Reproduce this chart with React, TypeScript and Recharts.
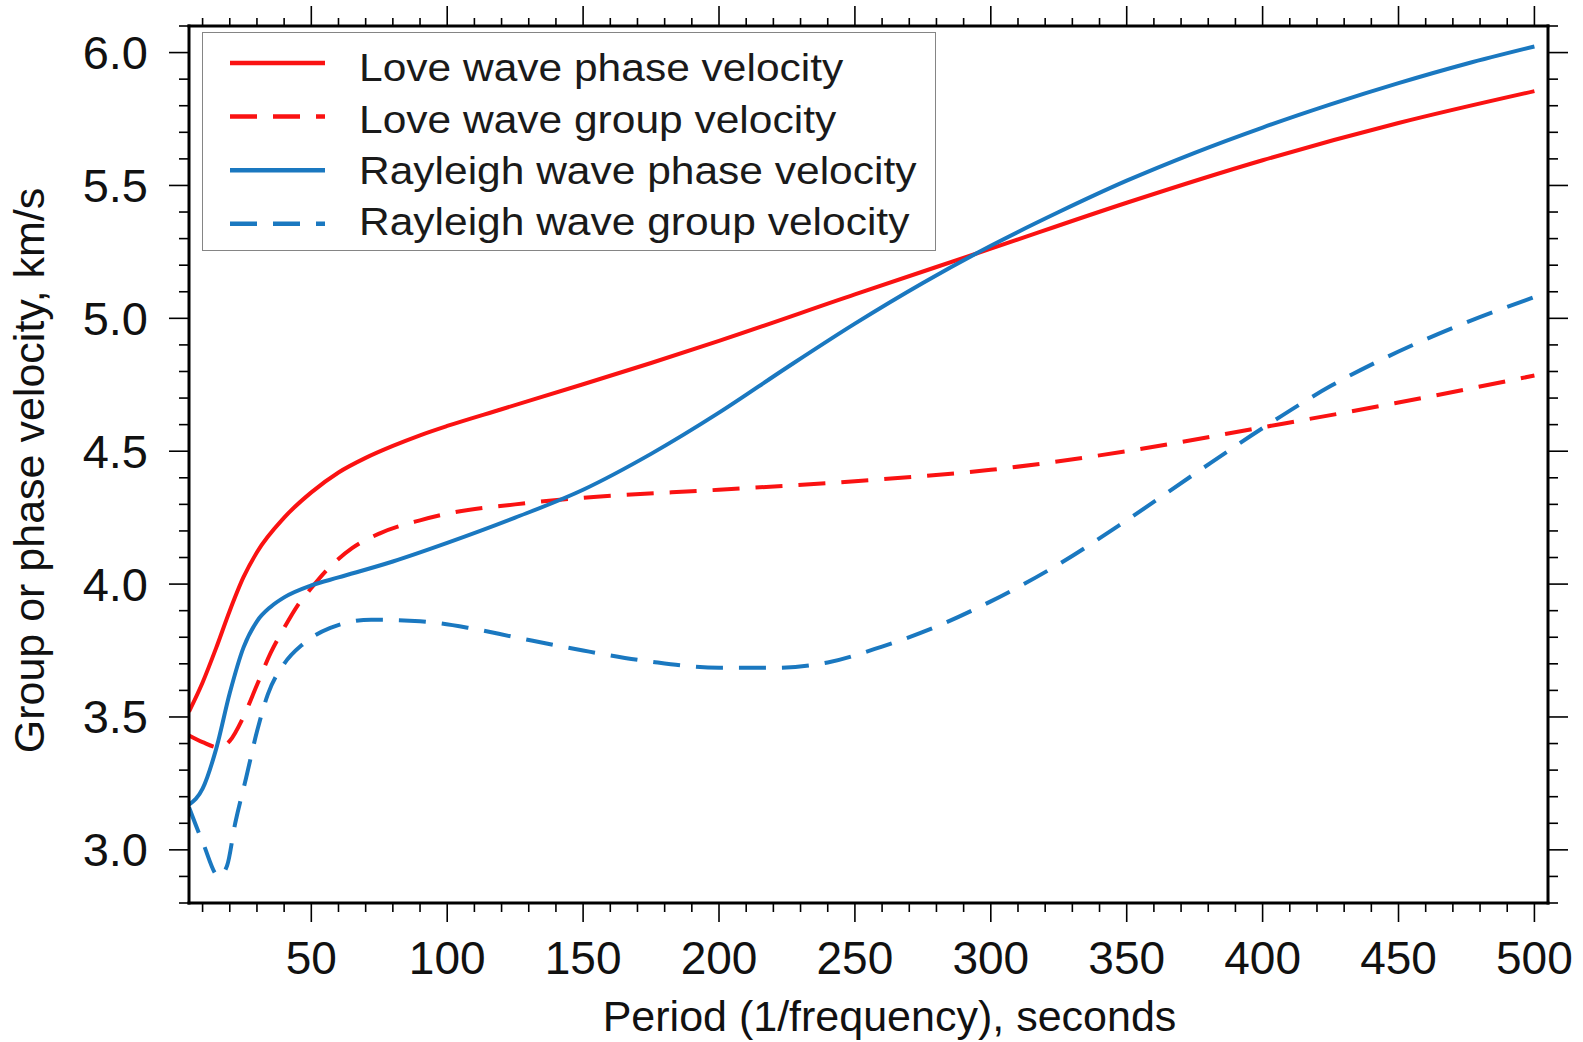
import React from 'react';
import { LineChart, Line, XAxis, YAxis, Legend, Label } from 'recharts';

const FONT = "'Liberation Sans', Arial, Helvetica, sans-serif";

// ---- data (period in seconds, velocity in km/s) ----
const lovePhasePeriod = [5, 10, 15, 20, 25, 30, 40, 50, 60, 70, 80, 90, 100, 120, 150, 175, 200, 250, 300, 350, 400, 450, 500];
const lovePhaseVel = [3.52, 3.63, 3.76, 3.9, 4.025, 4.12, 4.25, 4.345, 4.42, 4.475, 4.52, 4.56, 4.595, 4.658, 4.752, 4.832, 4.915, 5.09, 5.262, 5.435, 5.595, 5.735, 5.855];

const loveGroupPeriod = [5, 10, 16, 20, 25, 30, 35, 40, 45, 50, 55, 65, 75, 90, 100, 125, 150, 200, 250, 300, 350, 400, 450, 500];
const loveGroupVel = [3.43, 3.405, 3.385, 3.41, 3.5, 3.62, 3.74, 3.835, 3.92, 3.985, 4.045, 4.135, 4.19, 4.24, 4.265, 4.3, 4.325, 4.355, 4.387, 4.43, 4.5, 4.59, 4.683, 4.785];

const rayPhasePeriod = [5, 10, 15, 20, 25, 30, 35, 40, 50, 60, 80, 100, 125, 150, 175, 200, 225, 250, 275, 300, 325, 350, 375, 400, 425, 450, 475, 500];
const rayPhaseVel = [3.17, 3.23, 3.38, 3.59, 3.76, 3.86, 3.914, 3.95, 3.995, 4.025, 4.085, 4.155, 4.25, 4.355, 4.49, 4.645, 4.815, 4.98, 5.133, 5.273, 5.4, 5.518, 5.623, 5.718, 5.805, 5.885, 5.958, 6.023];

const rayGroupPeriod = [5, 10, 16, 19, 22, 26, 30, 34, 40, 47, 57, 72, 90, 108, 125, 150, 175, 200, 220, 240, 260, 280, 300, 325, 350, 375, 400, 425, 450, 475, 500];
const rayGroupVel = [3.16, 3.03, 2.9, 2.94, 3.1, 3.27, 3.445, 3.585, 3.7, 3.775, 3.835, 3.866, 3.86, 3.835, 3.8, 3.75, 3.708, 3.685, 3.685, 3.705, 3.765, 3.84, 3.935, 4.075, 4.24, 4.415, 4.587, 4.745, 4.875, 4.985, 5.08];

// ---- axis ticks ----
const xTicks = [10, 20, 30, 40, 50, 60, 70, 80, 90, 100, 110, 120, 130, 140, 150, 160, 170, 180, 190, 200,
  210, 220, 230, 240, 250, 260, 270, 280, 290, 300, 310, 320, 330, 340, 350, 360, 370, 380, 390, 400,
  410, 420, 430, 440, 450, 460, 470, 480, 490, 500];
const xMajorTicks = [50, 100, 150, 200, 250, 300, 350, 400, 450, 500];
const yTicks = [2.8, 2.9, 3.0, 3.1, 3.2, 3.3, 3.4, 3.5, 3.6, 3.7, 3.8, 3.9, 4.0, 4.1, 4.2, 4.3, 4.4, 4.5,
  4.6, 4.7, 4.8, 4.9, 5.0, 5.1, 5.2, 5.3, 5.4, 5.5, 5.6, 5.7, 5.8, 5.9, 6.0, 6.1];
const yMajorTicks = [3.0, 3.5, 4.0, 4.5, 5.0, 5.5, 6.0];

const xDomain = [5, 505];
const yDomain = [2.8, 6.1];

const RED = '#fa1212';
const BLUE = '#1a78c0';
const DASH = '27 16';

const zip = (ps: number[], vs: number[]) => ps.map((p, i) => ({ p, v: vs[i] }));

const seriesList = [
  { name: 'Love wave phase velocity', color: RED, dash: undefined as string | undefined, data: zip(lovePhasePeriod, lovePhaseVel) },
  { name: 'Love wave group velocity', color: RED, dash: DASH, data: zip(loveGroupPeriod, loveGroupVel) },
  { name: 'Rayleigh wave phase velocity', color: BLUE, dash: undefined as string | undefined, data: zip(rayPhasePeriod, rayPhaseVel) },
  { name: 'Rayleigh wave group velocity', color: BLUE, dash: DASH, data: zip(rayGroupPeriod, rayGroupVel) },
];

const isMajorX = (v: number) => xMajorTicks.some((m) => Math.abs(m - v) < 1e-6);
const isMajorY = (v: number) => yMajorTicks.some((m) => Math.abs(m - v) < 1e-6);

const TICK_W = 1.6;

const BottomTick = (props: any) => {
  const { x, y, payload } = props;
  const major = isMajorX(payload.value);
  return (
    <g>
      <line x1={x} x2={x} y1={y} y2={y + (major ? 19 : 9)} stroke="#000" strokeWidth={TICK_W} />
      {major && (
        <text x={x} y={y + 71} textAnchor="middle" fontSize={46} fill="#111" fontFamily={FONT}>
          {payload.value}
        </text>
      )}
    </g>
  );
};

const TopTick = (props: any) => {
  const { x, y, payload } = props;
  const major = isMajorX(payload.value);
  return <line x1={x} x2={x} y1={y} y2={y - (major ? 20 : 8)} stroke="#000" strokeWidth={TICK_W} />;
};

const LeftTick = (props: any) => {
  const { x, y, payload } = props;
  const major = isMajorY(payload.value);
  return (
    <g>
      <line x1={x} x2={x - (major ? 20 : 10)} y1={y} y2={y} stroke="#000" strokeWidth={TICK_W} />
      {major && (
        <text x={x - 41} y={y + 16.5} textAnchor="end" fontSize={47} fill="#111" fontFamily={FONT}>
          {Number(payload.value).toFixed(1)}
        </text>
      )}
    </g>
  );
};

const RightTick = (props: any) => {
  const { x, y, payload } = props;
  const major = isMajorY(payload.value);
  return <line x1={x} x2={x + (major ? 20 : 10)} y1={y} y2={y} stroke="#000" strokeWidth={TICK_W} />;
};

const axisLine = { stroke: '#000', strokeWidth: 3, strokeLinecap: 'square' as const };

const LegendBox = () => (
  <div style={{ width: 734, height: 219, boxSizing: 'border-box', border: '1.5px solid #858585', background: '#fff', position: 'relative' }}>
    <svg width={734} height={219} style={{ display: 'block', position: 'absolute', left: -1.5, top: -1.5, overflow: 'visible' }}>
      {seriesList.map((s, i) => (
        <g key={s.name}>
          <line
            x1={28}
            x2={123}
            y1={31 + i * 53.6}
            y2={31 + i * 53.6}
            stroke={s.color}
            strokeWidth={4.5}
            strokeDasharray={s.dash}
          />
          <text
            transform={`translate(157, ${49.4 + i * 51.1}) scale(1.09, 1)`}
            x={0}
            y={0}
            fontSize={39}
            fill="#1a1a1a"
            fontFamily={FONT}
          >
            {s.name}
          </text>
        </g>
      ))}
    </svg>
  </div>
);

export default function App() {
  return (
    <div style={{ position: 'absolute', left: 0, top: 0, width: 1583, height: 1042, background: '#fff' }}>
      <LineChart width={1583} height={1042} margin={{ top: 0, right: 0, bottom: 0, left: 0 }}>
        <XAxis
          xAxisId="b"
          dataKey="p"
          type="number"
          orientation="bottom"
          domain={xDomain}
          ticks={xTicks}
          interval={0}
          height={139}
          tickSize={0}
          tickMargin={0}
          tickLine={false}
          axisLine={axisLine}
          tick={<BottomTick />}
          allowDataOverflow
        >
          <Label
            content={(p: any) => {
              const vb = p.viewBox || { x: 189, y: 903, width: 1359, height: 139 };
              return (
                <text x={vb.x + vb.width / 2 + 21} y={vb.y + 128} textAnchor="middle" fontSize={43} fill="#111" fontFamily={FONT}>
                  Period (1/frequency), seconds
                </text>
              );
            }}
          />
        </XAxis>
        <XAxis
          xAxisId="t"
          dataKey="p"
          type="number"
          orientation="top"
          domain={xDomain}
          ticks={xTicks}
          interval={0}
          height={26}
          tickSize={0}
          tickMargin={0}
          tickLine={false}
          axisLine={axisLine}
          tick={<TopTick />}
          allowDataOverflow
        />
        <YAxis
          yAxisId="l"
          type="number"
          orientation="left"
          domain={yDomain}
          ticks={yTicks}
          interval={0}
          width={189}
          tickSize={0}
          tickMargin={0}
          tickLine={false}
          axisLine={axisLine}
          tick={<LeftTick />}
          allowDataOverflow
        >
          <Label
            content={(p: any) => {
              const vb = p.viewBox || { x: 0, y: 26, width: 189, height: 877 };
              const cx = vb.x + 44;
              const cy = vb.y + vb.height / 2 + 6;
              return (
                <text x={cx} y={cy} transform={`rotate(-90, ${cx}, ${cy})`} textAnchor="middle" fontSize={43} fill="#111" fontFamily={FONT}>
                  Group or phase velocity, km/s
                </text>
              );
            }}
          />
        </YAxis>
        <YAxis
          yAxisId="r"
          type="number"
          orientation="right"
          domain={yDomain}
          ticks={yTicks}
          interval={0}
          width={35}
          tickSize={0}
          tickMargin={0}
          tickLine={false}
          axisLine={axisLine}
          tick={<RightTick />}
          allowDataOverflow
        />
        {seriesList.map((s) => (
          <Line
            key={s.name}
            name={s.name}
            data={s.data}
            dataKey="v"
            xAxisId="b"
            yAxisId="l"
            type="monotone"
            stroke={s.color}
            strokeWidth={4}
            strokeDasharray={s.dash}
            dot={false}
            activeDot={false}
            isAnimationActive={false}
          />
        ))}
        <Legend
          layout="vertical"
          align="center"
          verticalAlign="middle"
          content={<LegendBox />}
          wrapperStyle={{ left: 202, top: 32, width: 734, height: 219 }}
        />
      </LineChart>
    </div>
  );
}
